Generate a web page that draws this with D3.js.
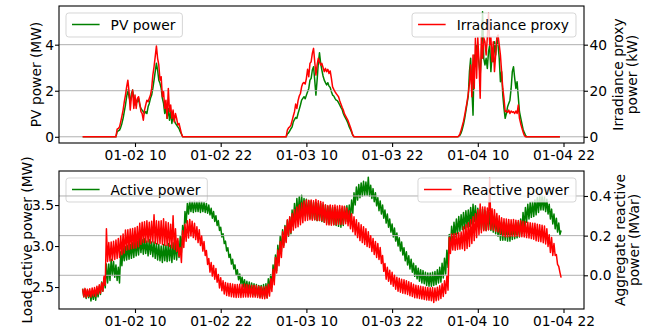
<!DOCTYPE html>
<html lang="en">
<head>
<meta charset="UTF-8">
<title>PV power and load</title>
<script src="https://d3js.org/d3.v7.min.js"></script>
<style>
  body { margin: 0; background: #fff; }
  text { font-family: "DejaVu Sans", sans-serif; }
</style>
</head>
<body>
<script>
// all times are hours after 01-02 00:00
var pvStart = 2 + 40 / 60, pvEnd = 69.5;
var dayStarts = [7 + 20 / 60, 31 + 10 / 60, 55];   // first 10-min sample of each day
var pvDay1 = [0, 0.22, 0.26, 0.29, 0.41, 0.58, 0.80, 1.09, 1.38, 1.74, 2.03, 1.74, 1.52, 1.88, 2.03, 1.67, 1.38, 1.59, 1.52, 1.67, 1.38, 1.23, 1.16, 1.09, 1.01, 1.09, 1.01, 1.30, 1.45, 1.67, 1.81, 2.10, 2.46, 2.83, 3.19, 2.90, 2.46, 2.32, 2.10, 1.67, 1.45, 1.01, 1.30, 0.80, 1.23, 0.72, 1.09, 0.58, 0.94, 0.72, 0.58, 0.51, 0.43, 0.36, 0.22, 0.12, 0];
var pvDay2 = [0, 0.12, 0.17, 0.26, 0.35, 0.43, 0.65, 0.75, 0.84, 0.80, 1.01, 1.19, 1.38, 1.59, 1.67, 1.74, 1.65, 1.81, 1.96, 2.10, 2.46, 2.54, 2.90, 3.04, 2.46, 1.81, 2.46, 3.19, 3.65, 3.19, 2.90, 2.64, 2.46, 2.35, 2.25, 2.35, 2.20, 2.14, 1.96, 1.81, 1.77, 1.67, 1.59, 1.57, 1.48, 1.38, 1.28, 1.19, 1.01, 0.90, 0.80, 0.70, 0.58, 0.43, 0.32, 0.20, 0.07, 0];
var pvDay3 = [0, 0, 0.01, 0.07, 0.17, 0.33, 0.54, 0.80, 1.12, 1.45, 1.78, 2.83, 3.41, 2.10, 0.94, 3.55, 3.12, 3.99, 3.70, 3.19, 2.68, 3.55, 5.43, 3.41, 3.12, 3.41, 2.97, 3.70, 3.99, 2.83, 3.55, 3.26, 4.13, 3.55, 4.28, 3.99, 3.41, 2.39, 2.83, 1.81, 1.23, 0.80, 1.01, 1.30, 1.45, 1.59, 2.10, 2.83, 3.04, 2.54, 2.10, 2.39, 1.74, 1.09, 0.83, 0.58, 0.33, 0.19, 0.07, 0];
var irrDay1 = [0, 3.3, 3.6, 4.3, 6.5, 9.0, 11.6, 15.2, 18.1, 21.7, 24.6, 19.6, 11.6, 17.4, 20.3, 12.3, 18.1, 12.3, 16.7, 17.4, 14.5, 10.9, 10.1, 7.2, 11.6, 13.8, 15.9, 15.2, 16.7, 18.1, 21.0, 26.8, 30.4, 34.8, 39.4, 34.1, 31.2, 24.6, 26.1, 17.4, 19.6, 12.3, 15.9, 8.0, 21.0, 10.9, 13.8, 8.0, 11.6, 6.5, 10.1, 8.0, 5.1, 5.8, 3.6, 1.4, 0];
var irrDay2 = [0, 2.9, 3.9, 4.3, 5.1, 7.0, 9.0, 10.9, 14.2, 12.3, 15.7, 17.7, 18.8, 21.7, 23.2, 23.6, 22.9, 25.4, 29.3, 26.1, 31.9, 32.6, 36.2, 38.4, 32.6, 26.8, 31.2, 34.1, 32.6, 31.2, 31.9, 30.1, 28.3, 29.7, 28.3, 29.3, 27.5, 28.6, 25.4, 21.7, 20.6, 19.6, 18.8, 18.1, 17.4, 15.7, 14.2, 12.8, 11.6, 9.9, 9.0, 8.0, 7.0, 5.5, 4.1, 2.5, 0.7, 0];
var irrDay3 = [0, 0, 0.3, 1.3, 2.9, 4.8, 6.8, 9.4, 12.3, 15.2, 18.8, 23.2, 31.2, 17.4, 35.5, 21.0, 42.8, 25.4, 43.0, 32.6, 16.7, 43.0, 34.1, 43.0, 41.3, 35.5, 43.0, 53.6, 39.9, 43.0, 32.6, 41.3, 28.3, 35.5, 43.0, 44.2, 39.9, 35.5, 28.3, 21.0, 16.7, 10.9, 11.2, 10.6, 11.6, 10.1, 11.2, 10.6, 10.9, 10.1, 11.2, 10.1, 13.8, 8.0, 5.8, 3.9, 2.2, 0.7, 0, 0];

var loadStart = 2 + 40 / 60, loadStep = 10;   // minutes
var activePower = [
  2.48, 2.38, 2.47, 2.36, 2.46, 2.37, 2.45, 2.33, 2.44, 2.35,
  2.46, 2.34, 2.48, 2.38, 2.51, 2.41, 2.56, 2.45, 2.61, 2.49,
  2.78, 2.55, 2.78, 2.58, 2.84, 2.64, 2.81, 2.62, 2.77, 2.58,
  2.74, 2.55, 2.93, 2.76, 2.98, 2.82, 2.99, 2.83, 3.01, 2.84,
  3.02, 2.85, 3.04, 2.86, 3.07, 2.88, 3.06, 2.89, 3.10, 2.92,
  3.08, 2.90, 3.09, 2.91, 3.06, 2.88, 3.08, 2.90, 3.05, 2.87,
  3.05, 2.85, 3.03, 2.83, 3.02, 2.82, 3.00, 2.80, 3.02, 2.82,
  3.01, 2.81, 3.03, 2.82, 3.01, 2.80, 3.04, 2.84, 3.03, 2.83,
  3.06, 2.86, 3.12, 2.92, 3.25, 3.08, 3.42, 3.28, 3.52, 3.39,
  3.55, 3.42, 3.54, 3.41, 3.55, 3.42, 3.54, 3.42, 3.55, 3.41,
  3.54, 3.42, 3.53, 3.41, 3.52, 3.40, 3.50, 3.38, 3.46, 3.34,
  3.42, 3.30, 3.37, 3.25, 3.31, 3.19, 3.23, 3.11, 3.15, 3.03,
  3.06, 2.94, 2.98, 2.86, 2.90, 2.78, 2.84, 2.72, 2.77, 2.65,
  2.71, 2.59, 2.66, 2.54, 2.62, 2.50, 2.59, 2.47, 2.57, 2.44,
  2.56, 2.42, 2.55, 2.41, 2.54, 2.40, 2.53, 2.39, 2.52, 2.38,
  2.52, 2.38, 2.53, 2.39, 2.54, 2.37, 2.60, 2.46, 2.65, 2.50,
  2.77, 2.59, 2.89, 2.70, 3.01, 2.81, 3.12, 2.93, 3.20, 3.01,
  3.25, 3.06, 3.31, 3.12, 3.35, 3.15, 3.44, 3.24, 3.52, 3.32,
  3.58, 3.37, 3.60, 3.39, 3.62, 3.40, 3.58, 3.37, 3.57, 3.36,
  3.55, 3.34, 3.55, 3.33, 3.53, 3.32, 3.53, 3.31, 3.52, 3.31,
  3.52, 3.30, 3.50, 3.29, 3.50, 3.28, 3.48, 3.27, 3.49, 3.27,
  3.47, 3.26, 3.47, 3.25, 3.45, 3.24, 3.45, 3.23, 3.46, 3.25,
  3.48, 3.30, 3.49, 3.31, 3.50, 3.33, 3.56, 3.40, 3.65, 3.50,
  3.72, 3.56, 3.75, 3.59, 3.77, 3.61, 3.79, 3.62, 3.78, 3.62,
  3.84, 3.61, 3.74, 3.58, 3.70, 3.54, 3.65, 3.49, 3.59, 3.43,
  3.55, 3.39, 3.50, 3.34, 3.44, 3.28, 3.39, 3.23, 3.33, 3.17,
  3.27, 3.11, 3.22, 3.06, 3.16, 3.00, 3.10, 2.94, 3.05, 2.89,
  2.98, 2.82, 2.93, 2.77, 2.88, 2.72, 2.84, 2.68, 2.79, 2.63,
  2.76, 2.60, 2.73, 2.57, 2.71, 2.55, 2.70, 2.54, 2.68, 2.52,
  2.67, 2.51, 2.67, 2.51, 2.68, 2.52, 2.69, 2.53, 2.71, 2.55,
  2.74, 2.56, 2.79, 2.61, 2.85, 2.66, 2.95, 2.74, 3.14, 2.96,
  3.24, 3.06, 3.29, 3.11, 3.33, 3.15, 3.36, 3.18, 3.38, 3.20,
  3.41, 3.21, 3.43, 3.23, 3.44, 3.24, 3.47, 3.27, 3.51, 3.30,
  3.49, 3.27, 3.46, 3.22, 3.44, 3.20, 3.45, 3.20, 3.43, 3.19,
  3.42, 3.20, 3.41, 3.19, 3.39, 3.17, 3.37, 3.15, 3.34, 3.12,
  3.30, 3.07, 3.29, 3.07, 3.28, 3.07, 3.28, 3.06, 3.27, 3.06,
  3.26, 3.08, 3.27, 3.09, 3.28, 3.10, 3.29, 3.11, 3.33, 3.15,
  3.41, 3.23, 3.47, 3.29, 3.51, 3.33, 3.53, 3.35, 3.54, 3.36,
  3.56, 3.38, 3.59, 3.41, 3.62, 3.44, 3.61, 3.44, 3.60, 3.42,
  3.57, 3.39, 3.51, 3.33, 3.45, 3.27, 3.39, 3.21, 3.34, 3.17,
  3.28, 3.14, 3.19];
var reactivePower = [
  -0.068, -0.108, -0.066, -0.112, -0.070, -0.106, -0.068, -0.110, -0.064, -0.104,
  -0.062, -0.106, -0.055, -0.095, -0.048, -0.090, -0.038, -0.080, -0.005, -0.050,
  0.235, 0.070, 0.165, 0.072, 0.168, 0.075, 0.172, 0.080, 0.178, 0.085,
  0.186, 0.090, 0.198, 0.104, 0.208, 0.112, 0.228, 0.128, 0.230, 0.130,
  0.234, 0.134, 0.236, 0.136, 0.240, 0.138, 0.246, 0.144, 0.262, 0.156,
  0.268, 0.166, 0.270, 0.165, 0.275, 0.168, 0.268, 0.162, 0.272, 0.168,
  0.305, 0.160, 0.275, 0.158, 0.272, 0.160, 0.275, 0.155, 0.285, 0.152,
  0.270, 0.150, 0.265, 0.145, 0.258, 0.138, 0.300, 0.130, 0.235, 0.120,
  0.185, 0.095, 0.140, 0.065, 0.225, 0.140, 0.258, 0.172, 0.275, 0.188,
  0.282, 0.198, 0.272, 0.190, 0.262, 0.180, 0.245, 0.165, 0.230, 0.150,
  0.198, 0.122, 0.170, 0.100, 0.125, 0.055, 0.085, 0.016, 0.064, -0.004,
  0.050, -0.020, 0.034, -0.035, 0.004, -0.064, -0.012, -0.078, -0.028, -0.094,
  -0.036, -0.102, -0.040, -0.105, -0.042, -0.108, -0.044, -0.110, -0.046, -0.112,
  -0.047, -0.111, -0.045, -0.112, -0.046, -0.110, -0.044, -0.109, -0.046, -0.110,
  -0.049, -0.109, -0.050, -0.110, -0.051, -0.110, -0.052, -0.112, -0.055, -0.115,
  -0.058, -0.117, -0.059, -0.118, -0.055, -0.115, -0.045, -0.105, -0.018, -0.082,
  0.030, -0.048, 0.090, 0.012, 0.128, 0.048, 0.170, 0.090, 0.220, 0.140,
  0.245, 0.165, 0.280, 0.200, 0.295, 0.215, 0.312, 0.228, 0.330, 0.240,
  0.345, 0.245, 0.355, 0.255, 0.365, 0.265, 0.375, 0.275, 0.380, 0.278,
  0.378, 0.280, 0.380, 0.278, 0.376, 0.280, 0.382, 0.276, 0.376, 0.277,
  0.372, 0.275, 0.368, 0.268, 0.355, 0.255, 0.352, 0.254, 0.355, 0.252,
  0.352, 0.255, 0.354, 0.255, 0.350, 0.258, 0.352, 0.256, 0.350, 0.258,
  0.348, 0.260, 0.340, 0.250, 0.325, 0.235, 0.310, 0.220, 0.295, 0.205,
  0.280, 0.190, 0.265, 0.175, 0.255, 0.165, 0.245, 0.155, 0.235, 0.145,
  0.220, 0.140, 0.200, 0.120, 0.185, 0.105, 0.170, 0.090, 0.160, 0.080,
  0.140, 0.060, 0.100, 0.020, 0.060, -0.020, 0.040, -0.030, 0.025, -0.045,
  0.015, -0.055, 0.000, -0.070, -0.010, -0.080, -0.015, -0.085, -0.020, -0.090,
  -0.023, -0.093, -0.027, -0.097, -0.033, -0.103, -0.037, -0.107, -0.045, -0.113,
  -0.050, -0.114, -0.053, -0.117, -0.055, -0.119, -0.058, -0.122, -0.060, -0.124,
  -0.062, -0.126, -0.063, -0.128, -0.062, -0.137, -0.064, -0.128, -0.060, -0.124,
  -0.053, -0.117, -0.043, -0.107, -0.028, -0.092, -0.005, -0.075, 0.190, 0.110,
  0.208, 0.128, 0.210, 0.126, 0.212, 0.130, 0.214, 0.132, 0.218, 0.134,
  0.245, 0.125, 0.255, 0.135, 0.265, 0.145, 0.280, 0.160, 0.295, 0.175,
  0.310, 0.190, 0.330, 0.205, 0.360, 0.215, 0.345, 0.225, 0.345, 0.225,
  0.340, 0.230, 0.490, 0.232, 0.335, 0.228, 0.330, 0.222, 0.312, 0.218,
  0.300, 0.210, 0.290, 0.200, 0.285, 0.195, 0.284, 0.194, 0.282, 0.196,
  0.280, 0.198, 0.282, 0.196, 0.278, 0.198, 0.276, 0.196, 0.275, 0.195,
  0.273, 0.193, 0.270, 0.190, 0.268, 0.188, 0.265, 0.185, 0.262, 0.182,
  0.262, 0.174, 0.258, 0.172, 0.255, 0.169, 0.252, 0.164, 0.248, 0.158,
  0.235, 0.145, 0.205, 0.115, 0.190, 0.100, 0.160, 0.100, 0.105, 0.055,
  0.045, 0.015, -0.012];

var timeTicks = ["01-02 10", "01-02 22", "01-03 10", "01-03 22", "01-04 10", "01-04 22"];
var pvTicks = [0, 2, 4];
var irrTicks = [0, 20, 40];
var activeTicks = [2.5, 3.0, 3.5];
var reactiveTicks = [0.0, 0.2, 0.4];

var W = 657, H = 328;
var left = 59, right = 584;
var fs = 13.8;
var t0 = Date.UTC(2020, 0, 2);
function at(h) { return new Date(t0 + h * 3600e3); }
function series(startH, stepMin, values) {
  return values.map(function(v, i) { return {t: at(startH + i * stepMin / 60), v: v}; });
}
var parseTick = d3.utcParse("%Y-%m-%d %H");
var tickDates = timeTicks.map(function(s) { return parseTick("2020-" + s); });

var pvSeries = [{t: at(pvStart), v: 0}].concat(
  series(dayStarts[0], 10, pvDay1), series(dayStarts[1], 10, pvDay2),
  series(dayStarts[2], 10, pvDay3), [{t: at(pvEnd), v: 0}]);
var irrSeries = [{t: at(pvStart), v: 0}].concat(
  series(dayStarts[0], 10, irrDay1), series(dayStarts[1], 10, irrDay2),
  series(dayStarts[2], 10, irrDay3), [{t: at(pvEnd), v: 0}]);
var activeSeries = series(loadStart, loadStep, activePower);
var reactiveSeries = series(loadStart, loadStep, reactivePower);

var x = d3.scaleUtc().domain([at(-0.64), at(72.87)]).range([left, right]);

var svg = d3.select("body").append("svg")
  .attr("width", W).attr("height", H)
  .style("display", "block");

var panels = [
  {top: 6, bottom: 143, yl: [-0.27, 5.68], yr: [-2.7, 56.8],
   lt: pvTicks, rt: irrTicks, lf: d3.format("d"), rf: d3.format("d"),
   a: pvSeries, b: irrSeries, la: "PV power", lb: "Irradiance proxy",
   ylab: ["PV power (MW)"], ylx: 36, rlab: ["Irradiance proxy", "power (kW)"], rlx: 618},
  {top: 171, bottom: 309, yl: [2.232, 3.915], yr: [-0.170, 0.526],
   lt: activeTicks, rt: reactiveTicks, lf: d3.format(".1f"), rf: d3.format(".1f"),
   a: activeSeries, b: reactiveSeries, la: "Active power", lb: "Reactive power",
   ylab: ["Load active power (MW)"], ylx: 27, rlab: ["Aggregate reactive", "power (MVar)"], rlx: 620}
];

function legend(g, label, color, x0, y0, alignRight) {
  var lg = g.append("g");
  var box = lg.append("rect");
  var txt = lg.append("text").text(label)
    .attr("font-size", fs).attr("fill", "#000");
  var tw = txt.node().getComputedTextLength();
  var w = 6 + 27.6 + 11 + tw + 7, h = 24;
  var bx = alignRight ? x0 - w : x0;
  box.attr("x", bx).attr("y", y0).attr("width", w).attr("height", h)
    .attr("rx", 2.8).attr("fill", "#fff").attr("fill-opacity", 0.8)
    .attr("stroke", "#ccc").attr("stroke-opacity", 0.8).attr("stroke-width", 1);
  lg.append("line")
    .attr("x1", bx + 6).attr("x2", bx + 6 + 27.6)
    .attr("y1", y0 + 11.5).attr("y2", y0 + 11.5)
    .attr("stroke", color).attr("stroke-width", 1.5);
  txt.attr("x", bx + 6 + 27.6 + 11).attr("y", y0 + 12).attr("dy", "0.35em");
}

panels.forEach(function(p, i) {
  var yL = d3.scaleLinear().domain(p.yl).range([p.bottom, p.top]);
  var yR = d3.scaleLinear().domain(p.yr).range([p.bottom, p.top]);
  var clipId = "clip" + i;
  svg.append("clipPath").attr("id", clipId).append("rect")
    .attr("x", left).attr("y", p.top).attr("width", right - left).attr("height", p.bottom - p.top);

  // first axes: green line and its legend
  svg.append("path").datum(p.a)
    .attr("clip-path", "url(#" + clipId + ")")
    .attr("fill", "none").attr("stroke", "green").attr("stroke-width", 1.5)
    .attr("stroke-linejoin", "round")
    .attr("d", d3.line().x(function(d) { return x(d.t); }).y(function(d) { return yL(d.v); }));
  legend(svg, p.la, "green", left + 7, p.top + 7, false);

  // twin axes: grid, red line, legend
  svg.append("g").selectAll("line").data(p.rt).join("line")
    .attr("x1", left).attr("x2", right)
    .attr("y1", function(d) { return yR(d); }).attr("y2", function(d) { return yR(d); })
    .attr("stroke", "#b0b0b0").attr("stroke-width", 1);
  svg.append("path").datum(p.b)
    .attr("clip-path", "url(#" + clipId + ")")
    .attr("fill", "none").attr("stroke", "red").attr("stroke-width", 1.5)
    .attr("stroke-linejoin", "round")
    .attr("d", d3.line().x(function(d) { return x(d.t); }).y(function(d) { return yR(d.v); }));
  legend(svg, p.lb, "red", right - 8, p.top + 7, true);

  // axes
  var gx = svg.append("g").attr("transform", "translate(0," + p.bottom + ")")
    .call(d3.axisBottom(x).tickValues(tickDates).tickFormat(d3.utcFormat("%m-%d %H"))
      .tickSize(4).tickPadding(3));
  var gl = svg.append("g").attr("transform", "translate(" + left + ",0)")
    .call(d3.axisLeft(yL).tickValues(p.lt).tickFormat(p.lf).tickSize(4).tickPadding(1));
  var gr = svg.append("g").attr("transform", "translate(" + right + ",0)")
    .call(d3.axisRight(yR).tickValues(p.rt).tickFormat(p.rf).tickSize(4).tickPadding(1.5));
  [gx, gl, gr].forEach(function(g) {
    g.select(".domain").remove();
    g.attr("font-size", fs).attr("font-family", "DejaVu Sans, sans-serif");
    g.selectAll("line").attr("stroke", "#000").attr("stroke-width", 1.1);
    g.selectAll("text").attr("fill", "#000");
  });

  svg.append("rect").attr("x", left).attr("y", p.top)
    .attr("width", right - left).attr("height", p.bottom - p.top)
    .attr("fill", "none").attr("stroke", "#000").attr("stroke-width", 1.1);

  var cy = (p.top + p.bottom) / 2;
  p.ylab.forEach(function(s) {
    svg.append("text").text(s)
      .attr("transform", "translate(" + p.ylx + "," + cy + ") rotate(-90)")
      .attr("text-anchor", "middle").attr("dy", "0.35em").attr("font-size", fs);
  });
  p.rlab.forEach(function(s, j) {
    svg.append("text").text(s)
      .attr("transform", "translate(" + (p.rlx + j * 14.5) + "," + cy + ") rotate(-90)")
      .attr("text-anchor", "middle").attr("dy", "0.35em").attr("font-size", fs);
  });
});
</script>
</body>
</html>
